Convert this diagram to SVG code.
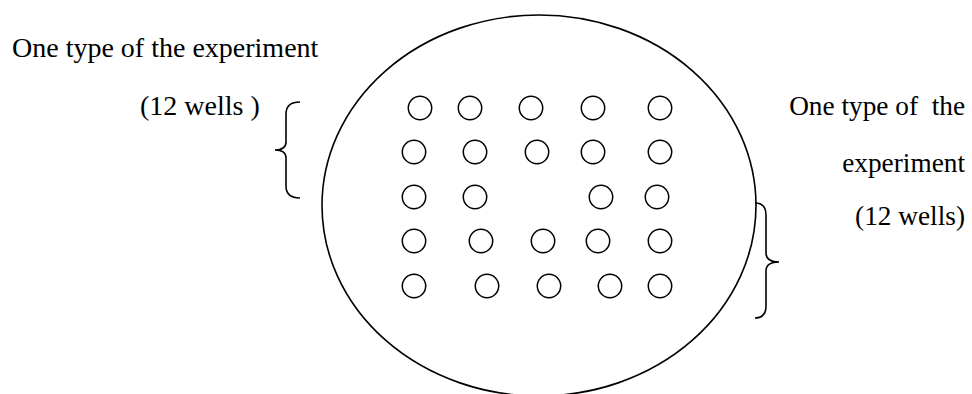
<svg xmlns="http://www.w3.org/2000/svg" width="972" height="394" viewBox="0 0 972 394">
<style>
  .ln { fill: none; stroke: #000; stroke-width: 1.6; }
  .well { fill: none; stroke: #000; stroke-width: 1.5; }
  .t { font-family: "Liberation Serif", "Times New Roman", serif; fill: #000; white-space: pre; }
</style>
<rect width="972" height="394" fill="#fff"/>
<g id="plate">
  <ellipse class="ln" cx="539" cy="205.5" rx="217" ry="190.5"/>
</g>
<g id="wells">
  <circle class="well" cx="420" cy="108" r="11.7"/>
  <circle class="well" cx="470" cy="108" r="11.7"/>
  <circle class="well" cx="531" cy="108" r="11.7"/>
  <circle class="well" cx="593" cy="108" r="11.7"/>
  <circle class="well" cx="660" cy="108" r="11.7"/>
  <circle class="well" cx="414" cy="152" r="11.7"/>
  <circle class="well" cx="475" cy="152" r="11.7"/>
  <circle class="well" cx="537" cy="152" r="11.7"/>
  <circle class="well" cx="593" cy="152" r="11.7"/>
  <circle class="well" cx="660" cy="152" r="11.7"/>
  <circle class="well" cx="414" cy="197" r="11.7"/>
  <circle class="well" cx="475" cy="197" r="11.7"/>
  <circle class="well" cx="601" cy="197" r="11.7"/>
  <circle class="well" cx="657" cy="197" r="11.7"/>
  <circle class="well" cx="414" cy="241" r="11.7"/>
  <circle class="well" cx="481" cy="241" r="11.7"/>
  <circle class="well" cx="543" cy="241" r="11.7"/>
  <circle class="well" cx="598" cy="241" r="11.7"/>
  <circle class="well" cx="660" cy="241" r="11.7"/>
  <circle class="well" cx="414" cy="286" r="11.7"/>
  <circle class="well" cx="487" cy="286" r="11.7"/>
  <circle class="well" cx="549" cy="286" r="11.7"/>
  <circle class="well" cx="610" cy="286" r="11.7"/>
  <circle class="well" cx="660" cy="286" r="11.7"/>
</g>
<g id="left-label">
  <text class="t" x="12" y="57" font-size="28">One type of the experiment</text>
  <text class="t" x="140" y="115" font-size="28">(12 wells )</text>
</g>
<g id="right-label">
  <text class="t" x="965" y="115" font-size="27.3" text-anchor="end">One type of  the</text>
  <text class="t" x="965" y="172" font-size="27.3" text-anchor="end">experiment</text>
  <text class="t" x="965" y="225" font-size="27.3" text-anchor="end">(12 wells)</text>
</g>
<g id="connectors">
  <path class="ln" d="M300,102 Q286,102 286,114 L286,142 Q286,150 275,150 Q286,150 286,158 L286,186 Q286,198 300,198"/>
  <path class="ln" d="M755,203 Q766,203 766,215 L766,253 Q766,262 779,262 Q766,262 766,271 L766,306 Q766,318 755,318"/>
</g>
</svg>
